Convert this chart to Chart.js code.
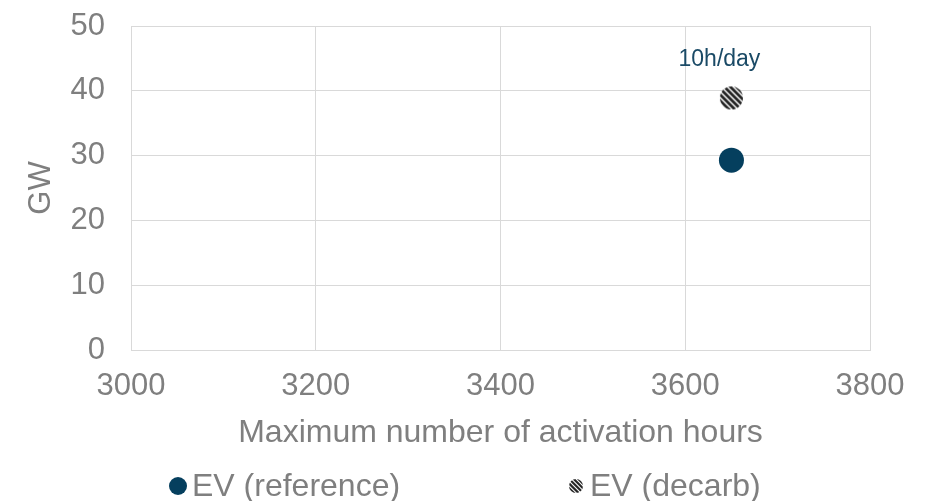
<!DOCTYPE html>
<html><head><meta charset="utf-8">
<script src="https://cdn.jsdelivr.net/npm/chart.js@4/dist/chart.umd.min.js"></script>
<style>html,body{margin:0;padding:0;background:#fff}</style>
</head><body>
<canvas id="c" width="935" height="501" style="width:935px;height:501px;display:block"></canvas>
<script>
// ---- data ----
const seriesNames = ['EV (reference)', 'EV (decarb)'];
const activationHours = [3650, 3650];
const capacityGW = [29.3, 38.9];
const pointLabels = ['', '10h/day'];
const xTickValues = [3000, 3200, 3400, 3600, 3800];
const yTickValues = [0, 10, 20, 30, 40, 50];
const xTitle = 'Maximum number of activation hours';
const yTitle = 'GW';

// ---- styles ----
const FONT = "'Liberation Sans', Arial, Helvetica, sans-serif";
const GREY = '#7f7f7f';
const GRID = '#d9d9d9';
const NAVY = '#053f5e';

function makeStriped(r, step, lw) {
  const s = Math.ceil(r * 2 + 2);
  const cv = document.createElement('canvas');
  cv.width = s; cv.height = s;
  const g = cv.getContext('2d');
  const c = s / 2;
  g.save();
  g.beginPath(); g.arc(c, c, r, 0, Math.PI * 2); g.clip();
  g.fillStyle = '#ffffff'; g.fillRect(0, 0, s, s);
  g.strokeStyle = '#262626'; g.lineWidth = lw;
  for (let k = -2 * s; k <= 2 * s; k += step) {
    g.beginPath();
    g.moveTo(k, 0);
    g.lineTo(k + s, s);
    g.stroke();
  }
  g.restore();
  return cv;
}
const stripedBig = makeStriped(11.5, 6, 2.9);
const stripedSmall = makeStriped(7, 4.6, 2.2);

const markers = [
  { style: 'circle', color: NAVY, radius: 12.5, legendRadius: 9 },
  { style: stripedBig, legendImg: stripedSmall }
];

const datasets = seriesNames.map((name, i) => ({
  label: name,
  data: [{ x: activationHours[i], y: capacityGW[i] }],
  pointStyle: markers[i].style,
  pointRadius: markers[i].radius || 12,
  pointHoverRadius: markers[i].radius || 12,
  backgroundColor: markers[i].color || '#fff',
  borderColor: markers[i].color || '#fff',
  borderWidth: 0,
  showLine: false
}));

const labelPlugin = {
  id: 'pointLabels',
  afterDatasetsDraw(chart) {
    const ctx = chart.ctx;
    ctx.save();
    ctx.font = '23px ' + FONT;
    ctx.fillStyle = '#1a4a66';
    ctx.textAlign = 'center';
    ctx.textBaseline = 'middle';
    chart.data.datasets.forEach((ds, i) => {
      const txt = pointLabels[i];
      if (!txt) return;
      const el = chart.getDatasetMeta(i).data[0];
      ctx.fillText(txt, el.x - 12, el.y - 38);
    });
    ctx.restore();
  }
};

const legendPlugin = {
  id: 'customLegend',
  afterDraw(chart) {
    const ctx = chart.ctx;
    const xs = [178, 576];
    const y = 486;
    ctx.save();
    ctx.font = '32px ' + FONT;
    ctx.fillStyle = GREY;
    ctx.textBaseline = 'middle';
    ctx.textAlign = 'left';
    chart.data.datasets.forEach((ds, i) => {
      const m = markers[i];
      const x = xs[i];
      if (m.legendImg) {
        ctx.drawImage(m.legendImg, x - m.legendImg.width / 2, y - m.legendImg.height / 2);
      } else {
        ctx.beginPath();
        ctx.arc(x, y, m.legendRadius, 0, Math.PI * 2);
        ctx.fillStyle = m.color;
        ctx.fill();
      }
      ctx.fillStyle = GREY;
      ctx.fillText(ds.label, x + 14, y + 1);
    });
    ctx.restore();
  }
};

new Chart(document.getElementById('c'), {
  type: 'scatter',
  data: { datasets },
  plugins: [labelPlugin, legendPlugin],
  options: {
    responsive: false,
    animation: false,
    devicePixelRatio: 1,
    layout: { padding: { left: 0, right: 65, top: 26, bottom: 46 } },
    plugins: { legend: { display: false }, tooltip: { enabled: false } },
    scales: {
      x: {
        type: 'linear',
        min: xTickValues[0],
        max: xTickValues[xTickValues.length - 1],
        afterBuildTicks(axis) { axis.ticks = xTickValues.map(v => ({ value: v })); },
        afterFit(axis) { axis.height = 105; axis.paddingTop = 0; },
        grid: { color: GRID, lineWidth: 1, drawTicks: false },
        border: { color: GRID, width: 1 },
        ticks: { color: GREY, font: { family: FONT, size: 31 }, padding: 18, maxRotation: 0, callback: v => String(v) },
        title: { display: true, text: xTitle, color: GREY, font: { family: FONT, size: 32 }, padding: { top: 0, bottom: 3 } }
      },
      y: {
        type: 'linear',
        min: yTickValues[0],
        max: yTickValues[yTickValues.length - 1],
        afterBuildTicks(axis) { axis.ticks = yTickValues.map(v => ({ value: v })); },
        afterFit(axis) { axis.width = 131; axis.paddingTop = 0; axis.paddingBottom = 0; },
        grid: { color: GRID, lineWidth: 1, drawTicks: false },
        border: { color: GRID, width: 1 },
        ticks: { color: GREY, font: { family: FONT, size: 31 }, padding: 26, callback: v => String(v) },
        title: { display: true, text: yTitle, color: GREY, font: { family: FONT, size: 31 }, padding: { top: 23, bottom: 0 } }
      }
    }
  }
});
</script>
</body></html>
